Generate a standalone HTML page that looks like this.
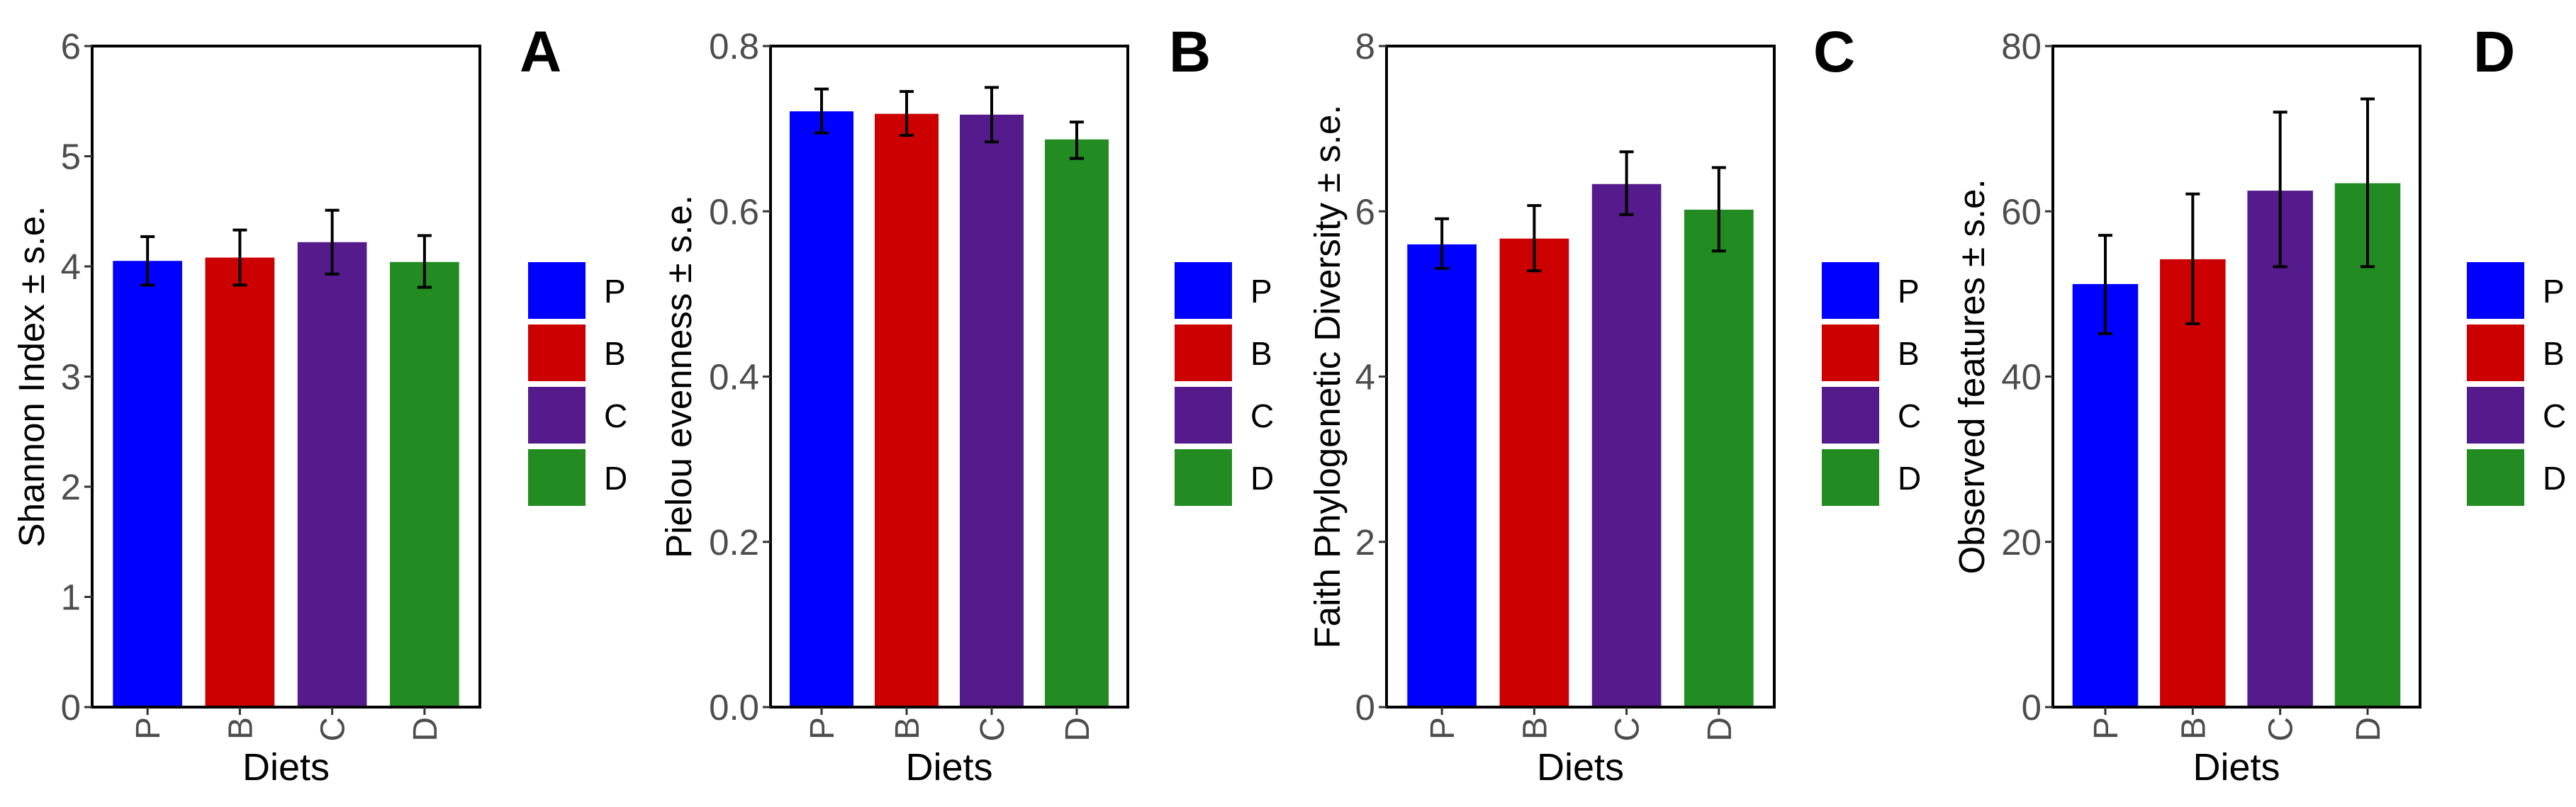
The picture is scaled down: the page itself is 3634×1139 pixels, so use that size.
<!DOCTYPE html>
<html><head><meta charset="utf-8"><style>
html,body{margin:0;padding:0;background:#fff;}
svg{display:block;font-family:"Liberation Sans",Arial,sans-serif;}
</style></head><body>
<svg id="fig" width="3634" height="1139" viewBox="0 0 3634 1139" xmlns="http://www.w3.org/2000/svg"></svg>
<script>
const categories = ["P","B","C","D"];
const colors = ["#0000ff","#cc0000","#551a8b","#228b22"];
const shannonValues = [4.05,4.08,4.22,4.04];
const shannonLow = [3.83,3.83,3.93,3.81];
const shannonHigh = [4.27,4.33,4.51,4.28];
const shannonTicks = [0,1,2,3,4,5,6];
const pielouValues = [0.721,0.718,0.717,0.687];
const pielouLow = [0.695,0.692,0.684,0.664];
const pielouHigh = [0.748,0.745,0.750,0.708];
const pielouTicks = ["0.0","0.2","0.4","0.6","0.8"];
const faithValues = [5.60,5.67,6.33,6.02];
const faithLow = [5.31,5.28,5.96,5.52];
const faithHigh = [5.91,6.07,6.72,6.53];
const faithTicks = [0,2,4,6,8];
const observedValues = [51.2,54.2,62.5,63.4];
const observedLow = [45.2,46.4,53.3,53.3];
const observedHigh = [57.1,62.1,72.0,73.6];
const observedTicks = [0,20,40,60,80];

const NS="http://www.w3.org/2000/svg";
const svgEl=document.getElementById('fig');
function mk(tag,attrs,parent,text){const e=document.createElementNS(NS,tag);for(const k in attrs)e.setAttribute(k,attrs[k]);if(text!==undefined)e.textContent=text;parent.appendChild(e);return e;}

const panels=[
 {id:"a",letter:"A",title:"Shannon Index \u00b1 s.e.",vals:shannonValues,lo:shannonLow,hi:shannonHigh,ticks:shannonTicks,max:6,left:130,right:677,legX:745,letX:733,titleX:44},
 {id:"b",letter:"B",title:"Pielou evenness \u00b1 s.e.",vals:pielouValues,lo:pielouLow,hi:pielouHigh,ticks:pielouTicks,max:0.8,left:1087,right:1591,legX:1657,letX:1649,titleX:957},
 {id:"c",letter:"C",title:"Faith Phylogenetic Diversity \u00b1 s.e.",vals:faithValues,lo:faithLow,hi:faithHigh,ticks:faithTicks,max:8,left:1956,right:2503,legX:2570,letX:2558,titleX:1872},
 {id:"d",letter:"D",title:"Observed features \u00b1 s.e.",vals:observedValues,lo:observedLow,hi:observedHigh,ticks:observedTicks,max:80,left:2896,right:3414,legX:3480,letX:3489,titleX:2781}
];
const plotTop=65,plotBottom=998;
panels.forEach(p=>{
  const g=mk('g',{},svgEl);
  
  
  const y=v=>plotBottom-(v/p.max)*(plotBottom-plotTop);
  const unit=(p.right-p.left)/4.2;
  const x=i=>p.left+(0.6+i)*unit;
  const bw=unit*0.75;
  p.vals.forEach((v,i)=>{
    const r=mk('rect',{x:x(i)-bw/2,y:y(v),width:bw,height:plotBottom-y(v),fill:colors[i]},g);
    
    
  });
  p.vals.forEach((v,i)=>{
    const eg=mk('g',{stroke:"#000","stroke-width":4},g);
    
    
    mk('line',{x1:x(i),x2:x(i),y1:y(p.hi[i]),y2:y(p.lo[i])},eg);
    mk('line',{x1:x(i)-10,x2:x(i)+10,y1:y(p.hi[i]),y2:y(p.hi[i])},eg);
    mk('line',{x1:x(i)-10,x2:x(i)+10,y1:y(p.lo[i]),y2:y(p.lo[i])},eg);
  });
  const fr=mk('rect',{x:p.left,y:plotTop,width:p.right-p.left,height:plotBottom-plotTop,fill:"none",stroke:"#000","stroke-width":4},g);
  
  
  p.ticks.forEach(t=>{
    const ty=y(parseFloat(t));
    mk('line',{x1:p.left-11,x2:p.left,y1:ty,y2:ty,stroke:"#333","stroke-width":3},g);
    const tl=mk('text',{x:p.left-16,y:ty+18,"text-anchor":"end","font-size":51,fill:"#4d4d4d"},g,String(t));
    
    
  });
  categories.forEach((c,i)=>{
    mk('line',{x1:x(i),x2:x(i),y1:plotBottom,y2:plotBottom+11,stroke:"#333","stroke-width":3},g);
    const tl=mk('text',{x:0,y:0,"text-anchor":"end","font-size":48,fill:"#4d4d4d",transform:`translate(${x(i)+17},${plotBottom+14}) rotate(-90)`},g,c);
    
    
  });
  const xt=mk('text',{x:(p.left+p.right)/2,y:1101,"text-anchor":"middle","font-size":54,fill:"#000"},g,"Diets");
  
  
  const yt=mk('text',{x:0,y:0,"text-anchor":"middle","font-size":51,fill:"#000",transform:`translate(${p.titleX+18},${(plotTop+plotBottom)/2}) rotate(-90)`},g,p.title);
  
  
  const lt=mk('text',{x:p.letX,y:101,"font-size":82,"font-weight":"bold",fill:"#000"},g,p.letter);
  
  
  categories.forEach((c,i)=>{
    const ly=370+i*88;
    const le=mk('g',{},g);
    
    
    mk('rect',{x:p.legX,y:ly,width:81,height:80,fill:colors[i]},le);
    mk('text',{x:p.legX+107,y:ly+57,"font-size":46,fill:"#000"},le,c);
  });
});
</script>
</body></html>
